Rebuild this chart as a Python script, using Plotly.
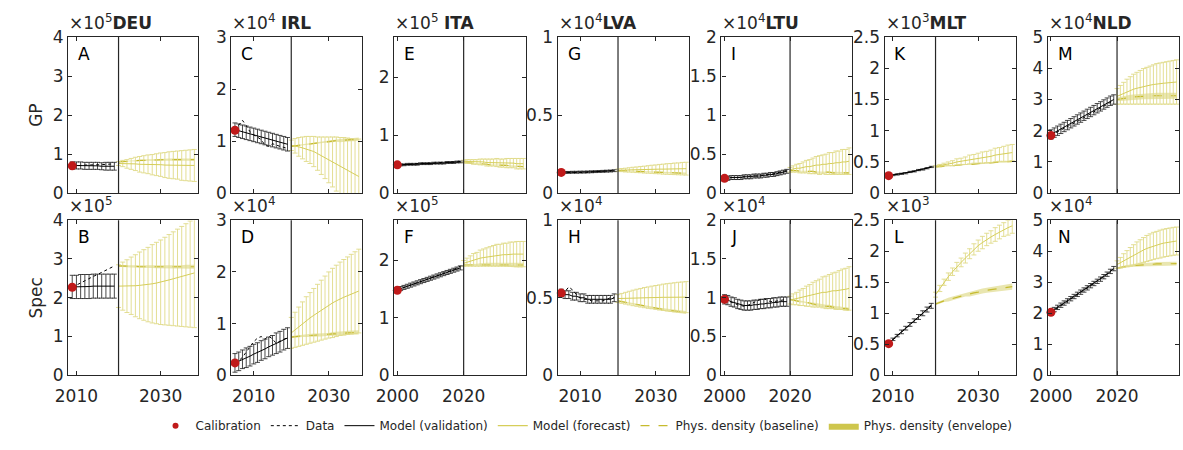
import plotly.graph_objects as go

W, H = 1183, 450
FONT = "DejaVu Sans"
INK = "#262626"

# ---------------------------------------------------------------- data ----
COUNTRIES = ["DEU", "IRL", "ITA", "LVA", "LTU", "MLT", "NLD"]
GP_PANELS = ["A", "C", "E", "G", "I", "K", "M"]
SPEC_PANELS = ["B", "D", "F", "H", "J", "L", "N"]
START_YEAR = {"DEU": 2009, "IRL": 2005, "ITA": 2000, "LVA": 2005,
              "LTU": 2000, "MLT": 2009, "NLD": 2000}
SPLIT_YEAR = 2020
FORECAST_YEARS = list(range(2020, 2039))
EXPONENT = {"DEU": 5, "IRL": 4, "ITA": 5, "LVA": 4, "LTU": 4, "MLT": 3, "NLD": 4}
Y_MAX = {"DEU": 4, "IRL": 3, "ITA": 2.7, "LVA": 1, "LTU": 2, "MLT": 2.5, "NLD": 5}
Y_TICKS = {
    "DEU": [0, 1, 2, 3, 4],
    "IRL": [0, 1, 2, 3],
    "ITA": [0, 1, 2],
    "LVA": [0, 0.5, 1],
    "LTU": [0, 0.5, 1, 1.5, 2],
    "MLT": [0, 0.5, 1, 1.5, 2, 2.5],
    "NLD": [0, 1, 2, 3, 4, 5],
}
X_TICKS = {"DEU": [2010, 2030], "IRL": [2010, 2030], "ITA": [2000, 2020],
           "LVA": [2010, 2030], "LTU": [2000, 2020], "MLT": [2010, 2030],
           "NLD": [2000, 2020]}
TITLE_GAP = {"DEU": "", "IRL": " ", "ITA": " ", "LVA": "", "LTU": "", "MLT": "", "NLD": ""}

# values in units of 10^EXPONENT
CALIBRATION = {
    "A": 0.70, "B": 2.27, "C": 1.21, "D": 0.24, "E": 0.49, "F": 1.48, "G": 0.133,
    "H": 0.53, "I": 0.19, "J": 0.98, "K": 0.28, "L": 0.51, "M": 1.85, "N": 2.03,
}

DATA = {
    "A": [0.70, 0.70, 0.71, 0.72, 0.72, 0.73, 0.73, 0.73, 0.74, 0.74, 0.75],
    "B": [2.27, 2.33, 2.38, 2.44, 2.49, 2.55, 2.60, 2.66, 2.71, 2.77, 2.82],
    "C": [1.21, 1.30, 1.40, 1.30, 1.18, 1.12, 1.08, 1.03, 0.92, 0.90, 0.95, 0.92, 0.90, 0.88, 0.86],
    "D": [0.24, 0.28, 0.35, 0.45, 0.55, 0.65, 0.72, 0.75, 0.70, 0.76, 0.70, 0.62, 0.66, 0.70, 0.73],
    "E": [0.49, 0.49, 0.50, 0.50, 0.50, 0.51, 0.51, 0.51, 0.52, 0.52,
          0.52, 0.52, 0.53, 0.53, 0.53, 0.53, 0.54, 0.54, 0.54, 0.55],
    "F": [1.48, 1.51, 1.53, 1.55, 1.57, 1.59, 1.61, 1.63, 1.65, 1.67,
          1.69, 1.71, 1.73, 1.75, 1.77, 1.79, 1.82, 1.84, 1.87, 1.90],
    "G": [0.133, 0.132, 0.131, 0.131, 0.132, 0.132, 0.133, 0.134, 0.135, 0.136,
          0.137, 0.138, 0.140, 0.142, 0.145],
    "H": [0.53, 0.54, 0.57, 0.55, 0.52, 0.50, 0.49, 0.49, 0.48, 0.48, 0.48, 0.48, 0.49, 0.50, 0.50],
    "I": [0.19, 0.19, 0.20, 0.20, 0.20, 0.21, 0.21, 0.21, 0.22, 0.22,
          0.22, 0.23, 0.23, 0.24, 0.24, 0.25, 0.26, 0.27, 0.28, 0.29],
    "J": [0.98, 0.96, 0.94, 0.92, 0.91, 0.90, 0.89, 0.90, 0.92, 0.95,
          0.97, 0.98, 0.99, 0.97, 0.95, 0.95, 0.96, 0.97, 0.97, 0.98],
    "K": [0.28, 0.29, 0.30, 0.31, 0.32, 0.34, 0.35, 0.37, 0.38, 0.40, 0.42],
    "L": [0.51, 0.57, 0.63, 0.70, 0.76, 0.82, 0.88, 0.94, 1.00, 1.07, 1.14],
    "M": [1.85, 1.90, 1.96, 2.02, 2.08, 2.13, 2.19, 2.25, 2.30, 2.36,
          2.42, 2.48, 2.54, 2.60, 2.66, 2.72, 2.78, 2.84, 2.90, 2.97],
    "N": [2.03, 2.10, 2.17, 2.24, 2.31, 2.38, 2.45, 2.52, 2.60, 2.67,
          2.74, 2.82, 2.89, 2.96, 3.04, 3.11, 3.19, 3.27, 3.36, 3.45],
}

VALIDATION = {
    "A": [0.71, 0.71, 0.71, 0.70, 0.70, 0.70, 0.70, 0.69, 0.69, 0.69, 0.69],
    "B": [2.28, 2.28, 2.29, 2.29, 2.29, 2.30, 2.30, 2.30, 2.30, 2.30, 2.30],
    "C": [1.22, 1.20, 1.18, 1.16, 1.14, 1.12, 1.10, 1.08, 1.06, 1.04, 1.02, 1.00, 0.98, 0.96, 0.94],
    "D": [0.24, 0.27, 0.31, 0.34, 0.37, 0.41, 0.44, 0.48, 0.51, 0.55, 0.58, 0.62, 0.65, 0.69, 0.72],
    "E": [0.49, 0.49, 0.49, 0.50, 0.50, 0.50, 0.50, 0.51, 0.51, 0.51,
          0.51, 0.52, 0.52, 0.52, 0.52, 0.53, 0.53, 0.53, 0.54, 0.54],
    "F": [1.49, 1.51, 1.53, 1.55, 1.57, 1.59, 1.61, 1.63, 1.65, 1.67,
          1.69, 1.71, 1.73, 1.75, 1.77, 1.79, 1.81, 1.83, 1.85, 1.87],
    "G": [0.133, 0.133, 0.133, 0.134, 0.134, 0.135, 0.135, 0.136, 0.137, 0.138,
          0.139, 0.140, 0.141, 0.142, 0.144],
    "H": [0.53, 0.52, 0.52, 0.51, 0.51, 0.50, 0.50, 0.49, 0.49, 0.49, 0.49, 0.49, 0.49, 0.49, 0.50],
    "I": [0.19, 0.19, 0.20, 0.20, 0.20, 0.20, 0.21, 0.21, 0.21, 0.22,
          0.22, 0.22, 0.23, 0.23, 0.24, 0.24, 0.25, 0.26, 0.27, 0.28],
    "J": [0.98, 0.97, 0.95, 0.94, 0.92, 0.91, 0.90, 0.90, 0.90, 0.91,
          0.91, 0.92, 0.92, 0.93, 0.93, 0.94, 0.94, 0.95, 0.95, 0.95],
    "K": [0.28, 0.29, 0.30, 0.31, 0.32, 0.34, 0.35, 0.37, 0.38, 0.40, 0.42],
    "L": [0.52, 0.58, 0.64, 0.70, 0.76, 0.82, 0.88, 0.94, 1.00, 1.06, 1.12],
    "M": [1.88, 1.94, 2.00, 2.06, 2.12, 2.18, 2.24, 2.30, 2.36, 2.42,
          2.48, 2.54, 2.60, 2.66, 2.72, 2.78, 2.84, 2.90, 2.96, 3.00],
    "N": [2.05, 2.12, 2.19, 2.26, 2.33, 2.40, 2.47, 2.54, 2.61, 2.68,
          2.75, 2.82, 2.89, 2.96, 3.03, 3.10, 3.18, 3.26, 3.35, 3.44],
}

VALIDATION_ERR = {
    "A": [0.09, 0.09, 0.09, 0.09, 0.09, 0.09, 0.09, 0.09, 0.10, 0.10, 0.10],
    "B": [0.30, 0.30, 0.31, 0.31, 0.31, 0.31, 0.31, 0.31, 0.31, 0.31, 0.31],
    "C": [0.13, 0.13, 0.13, 0.13, 0.13, 0.13, 0.13, 0.13, 0.13, 0.13, 0.13, 0.13, 0.13, 0.13, 0.13],
    "D": [0.18, 0.18, 0.18, 0.19, 0.19, 0.19, 0.19, 0.19, 0.19, 0.19, 0.19, 0.20, 0.20, 0.20, 0.20],
    "E": [0.015, 0.015, 0.015, 0.015, 0.015, 0.015, 0.015, 0.015, 0.015, 0.015,
          0.015, 0.015, 0.015, 0.015, 0.015, 0.015, 0.015, 0.015, 0.015, 0.015],
    "F": [0.035, 0.035, 0.035, 0.035, 0.035, 0.035, 0.035, 0.035, 0.035, 0.035,
          0.035, 0.035, 0.035, 0.035, 0.035, 0.035, 0.035, 0.035, 0.035, 0.035],
    "G": [0.006, 0.006, 0.006, 0.006, 0.006, 0.006, 0.006, 0.006, 0.006, 0.006,
          0.006, 0.006, 0.006, 0.006, 0.006],
    "H": [0.025, 0.025, 0.025, 0.025, 0.025, 0.025, 0.025, 0.025, 0.025, 0.025,
          0.025, 0.025, 0.025, 0.025, 0.025],
    "I": [0.025, 0.025, 0.025, 0.025, 0.025, 0.025, 0.025, 0.025, 0.025, 0.025,
          0.025, 0.025, 0.025, 0.025, 0.025, 0.025, 0.025, 0.025, 0.025, 0.025],
    "J": [0.06, 0.06, 0.06, 0.06, 0.06, 0.06, 0.06, 0.06, 0.06, 0.06,
          0.06, 0.06, 0.06, 0.06, 0.06, 0.06, 0.06, 0.06, 0.06, 0.06],
    "K": [0.01, 0.01, 0.01, 0.01, 0.01, 0.01, 0.01, 0.01, 0.01, 0.01, 0.01],
    "L": [0.02, 0.02, 0.02, 0.03, 0.03, 0.03, 0.03, 0.04, 0.04, 0.04, 0.04],
    "M": [0.15, 0.15, 0.15, 0.15, 0.15, 0.15, 0.15, 0.15, 0.15, 0.15,
          0.15, 0.15, 0.15, 0.15, 0.15, 0.15, 0.15, 0.15, 0.15, 0.15],
    "N": [0.07, 0.07, 0.07, 0.07, 0.07, 0.07, 0.07, 0.07, 0.07, 0.07,
          0.07, 0.07, 0.07, 0.07, 0.07, 0.07, 0.07, 0.07, 0.07, 0.07],
}

FORECAST = {
    "A": [0.76, 0.76, 0.75, 0.75, 0.75, 0.74, 0.74, 0.74, 0.73, 0.73,
          0.73, 0.72, 0.72, 0.72, 0.72, 0.71, 0.71, 0.71, 0.71],
    "B": [2.30, 2.30, 2.30, 2.31, 2.31, 2.32, 2.33, 2.34, 2.36, 2.38,
          2.40, 2.43, 2.46, 2.49, 2.52, 2.55, 2.58, 2.61, 2.64],
    "C": [0.92, 0.91, 0.89, 0.87, 0.85, 0.83, 0.80, 0.76, 0.72, 0.68,
          0.64, 0.60, 0.56, 0.52, 0.48, 0.44, 0.40, 0.36, 0.32],
    "D": [0.82, 0.88, 0.94, 1.00, 1.06, 1.11, 1.16, 1.21, 1.26, 1.31,
          1.36, 1.40, 1.44, 1.48, 1.51, 1.54, 1.57, 1.60, 1.63],
    "E": [0.55, 0.55, 0.55, 0.54, 0.54, 0.54, 0.54, 0.53, 0.53, 0.53,
          0.53, 0.52, 0.52, 0.52, 0.52, 0.52, 0.51, 0.51, 0.51],
    "F": [1.95, 1.97, 1.99, 2.01, 2.02, 2.04, 2.05, 2.06, 2.07, 2.08,
          2.09, 2.09, 2.10, 2.10, 2.11, 2.11, 2.11, 2.11, 2.11],
    "G": [0.147, 0.148, 0.148, 0.149, 0.150, 0.150, 0.151, 0.151, 0.152, 0.153,
          0.153, 0.154, 0.154, 0.155, 0.155, 0.156, 0.156, 0.157, 0.157],
    "H": [0.495, 0.496, 0.497, 0.498, 0.499, 0.500, 0.500, 0.501, 0.501, 0.502,
          0.502, 0.502, 0.503, 0.503, 0.503, 0.503, 0.504, 0.504, 0.504],
    "I": [0.30, 0.31, 0.32, 0.32, 0.33, 0.34, 0.34, 0.35, 0.36, 0.36,
          0.37, 0.37, 0.38, 0.38, 0.39, 0.39, 0.40, 0.40, 0.41],
    "J": [0.97, 0.98, 0.99, 1.00, 1.01, 1.02, 1.03, 1.04, 1.05, 1.06,
          1.07, 1.07, 1.08, 1.09, 1.09, 1.10, 1.11, 1.11, 1.12],
    "K": [0.43, 0.44, 0.46, 0.47, 0.48, 0.50, 0.51, 0.52, 0.54, 0.55,
          0.56, 0.57, 0.58, 0.59, 0.61, 0.62, 0.63, 0.64, 0.65],
    "L": [1.30, 1.40, 1.50, 1.59, 1.67, 1.75, 1.82, 1.89, 1.96, 2.03,
          2.09, 2.14, 2.19, 2.23, 2.27, 2.31, 2.35, 2.38, 2.41],
    "M": [3.10, 3.15, 3.20, 3.25, 3.29, 3.33, 3.36, 3.39, 3.42, 3.44,
          3.46, 3.48, 3.50, 3.51, 3.52, 3.53, 3.54, 3.55, 3.56],
    "N": [3.57, 3.63, 3.70, 3.76, 3.82, 3.88, 3.94, 3.99, 4.04, 4.09,
          4.13, 4.17, 4.20, 4.23, 4.26, 4.28, 4.30, 4.32, 4.33],
}

FORECAST_ERR = {
    "A": [0.05, 0.08, 0.11, 0.14, 0.17, 0.20, 0.22, 0.24, 0.26, 0.28,
          0.30, 0.32, 0.34, 0.35, 0.36, 0.38, 0.39, 0.40, 0.41],
    "B": [0.55, 0.62, 0.68, 0.74, 0.80, 0.86, 0.91, 0.96, 1.01, 1.05,
          1.09, 1.13, 1.17, 1.21, 1.25, 1.29, 1.33, 1.37, 1.41],
    "C": [0.10, 0.14, 0.18, 0.21, 0.24, 0.26, 0.29, 0.32, 0.36, 0.40,
          0.44, 0.48, 0.52, 0.55, 0.59, 0.62, 0.65, 0.68, 0.72],
    "D": [0.30, 0.34, 0.38, 0.42, 0.46, 0.49, 0.52, 0.55, 0.58, 0.61,
          0.64, 0.67, 0.69, 0.71, 0.73, 0.75, 0.77, 0.79, 0.81],
    "E": [0.02, 0.03, 0.03, 0.04, 0.04, 0.05, 0.05, 0.06, 0.06, 0.06,
          0.07, 0.07, 0.07, 0.08, 0.08, 0.08, 0.09, 0.09, 0.09],
    "F": [0.05, 0.07, 0.09, 0.11, 0.12, 0.14, 0.15, 0.16, 0.17, 0.18,
          0.19, 0.19, 0.20, 0.20, 0.21, 0.21, 0.22, 0.22, 0.22],
    "G": [0.008, 0.010, 0.012, 0.014, 0.016, 0.018, 0.020, 0.022, 0.024, 0.026,
          0.028, 0.030, 0.032, 0.034, 0.035, 0.037, 0.038, 0.040, 0.041],
    "H": [0.025, 0.032, 0.038, 0.044, 0.050, 0.055, 0.060, 0.065, 0.069, 0.073,
          0.077, 0.081, 0.085, 0.088, 0.091, 0.094, 0.096, 0.098, 0.100],
    "I": [0.03, 0.04, 0.05, 0.06, 0.07, 0.08, 0.09, 0.10, 0.11, 0.12,
          0.12, 0.13, 0.14, 0.14, 0.15, 0.15, 0.16, 0.16, 0.17],
    "J": [0.05, 0.07, 0.08, 0.10, 0.11, 0.13, 0.14, 0.16, 0.17, 0.18,
          0.20, 0.21, 0.22, 0.23, 0.24, 0.25, 0.26, 0.27, 0.28],
    "K": [0.01, 0.02, 0.02, 0.03, 0.04, 0.05, 0.05, 0.06, 0.07, 0.07,
          0.08, 0.09, 0.09, 0.10, 0.11, 0.11, 0.12, 0.13, 0.13],
    "L": [0.04, 0.05, 0.05, 0.06, 0.06, 0.07, 0.07, 0.08, 0.08, 0.09,
          0.09, 0.10, 0.10, 0.10, 0.11, 0.11, 0.11, 0.12, 0.12],
    "M": [0.25, 0.30, 0.35, 0.40, 0.44, 0.48, 0.51, 0.54, 0.57, 0.59,
          0.61, 0.63, 0.65, 0.66, 0.67, 0.68, 0.69, 0.70, 0.71],
    "N": [0.12, 0.17, 0.22, 0.26, 0.30, 0.33, 0.36, 0.38, 0.40, 0.42,
          0.43, 0.44, 0.44, 0.45, 0.45, 0.45, 0.45, 0.45, 0.45],
}

BASELINE = {
    "A": [0.80, 0.81, 0.82, 0.83, 0.83, 0.84, 0.84, 0.85, 0.85, 0.85,
          0.86, 0.86, 0.86, 0.86, 0.86, 0.86, 0.86, 0.86, 0.86],
    "B": [2.82, 2.82, 2.81, 2.81, 2.81, 2.80, 2.80, 2.80, 2.80, 2.80,
          2.80, 2.80, 2.80, 2.80, 2.80, 2.80, 2.80, 2.80, 2.80],
    "C": [0.90, 0.91, 0.92, 0.93, 0.94, 0.95, 0.96, 0.97, 0.98, 0.99,
          0.99, 1.00, 1.01, 1.01, 1.02, 1.02, 1.03, 1.03, 1.04],
    "D": [0.74, 0.75, 0.76, 0.76, 0.77, 0.77, 0.78, 0.78, 0.78, 0.79,
          0.79, 0.80, 0.80, 0.81, 0.81, 0.82, 0.82, 0.83, 0.83],
    "E": [0.53, 0.53, 0.52, 0.52, 0.51, 0.51, 0.50, 0.50, 0.49, 0.49,
          0.49, 0.48, 0.48, 0.48, 0.47, 0.47, 0.47, 0.47, 0.46],
    "F": [1.92, 1.92, 1.92, 1.92, 1.92, 1.93, 1.93, 1.93, 1.93, 1.93,
          1.93, 1.93, 1.93, 1.93, 1.92, 1.92, 1.92, 1.92, 1.92],
    "G": [0.145, 0.144, 0.143, 0.142, 0.141, 0.140, 0.139, 0.138, 0.137, 0.136,
          0.135, 0.134, 0.133, 0.132, 0.131, 0.130, 0.129, 0.128, 0.127],
    "H": [0.480, 0.475, 0.470, 0.465, 0.460, 0.455, 0.450, 0.445, 0.440, 0.436,
          0.432, 0.428, 0.424, 0.420, 0.417, 0.414, 0.411, 0.408, 0.405],
    "I": [0.29, 0.29, 0.29, 0.28, 0.28, 0.28, 0.28, 0.28, 0.27, 0.27,
          0.27, 0.27, 0.27, 0.26, 0.26, 0.26, 0.26, 0.26, 0.26],
    "J": [0.98, 0.97, 0.96, 0.95, 0.95, 0.94, 0.93, 0.92, 0.91, 0.91,
          0.90, 0.89, 0.89, 0.88, 0.87, 0.87, 0.86, 0.86, 0.85],
    "K": [0.42, 0.43, 0.43, 0.44, 0.44, 0.45, 0.45, 0.46, 0.46, 0.47,
          0.47, 0.48, 0.48, 0.49, 0.49, 0.50, 0.50, 0.51, 0.51],
    "L": [1.15, 1.18, 1.20, 1.22, 1.24, 1.26, 1.28, 1.30, 1.31, 1.33,
          1.34, 1.36, 1.37, 1.38, 1.39, 1.40, 1.41, 1.42, 1.43],
    "M": [3.00, 3.02, 3.04, 3.05, 3.07, 3.08, 3.09, 3.10, 3.10, 3.11,
          3.11, 3.12, 3.12, 3.12, 3.12, 3.12, 3.12, 3.12, 3.12],
    "N": [3.45, 3.48, 3.50, 3.52, 3.53, 3.54, 3.55, 3.56, 3.57, 3.57,
          3.58, 3.58, 3.59, 3.59, 3.59, 3.60, 3.60, 3.60, 3.60],
}

# half-width of the physical-density envelope around the baseline
ENVELOPE = {
    "A": [0.01, 0.01, 0.01, 0.01, 0.02, 0.02, 0.02, 0.02, 0.02, 0.02,
          0.02, 0.02, 0.03, 0.03, 0.03, 0.03, 0.03, 0.03, 0.03],
    "B": [0.02, 0.02, 0.02, 0.03, 0.03, 0.03, 0.03, 0.03, 0.03, 0.04,
          0.04, 0.04, 0.04, 0.04, 0.04, 0.04, 0.05, 0.05, 0.05],
    "C": [0.01, 0.01, 0.01, 0.01, 0.02, 0.02, 0.02, 0.02, 0.02, 0.02,
          0.02, 0.02, 0.02, 0.03, 0.03, 0.03, 0.03, 0.03, 0.03],
    "D": [0.02, 0.02, 0.02, 0.02, 0.03, 0.03, 0.03, 0.03, 0.03, 0.03,
          0.03, 0.04, 0.04, 0.04, 0.04, 0.04, 0.04, 0.04, 0.04],
    "E": [0.005, 0.005, 0.006, 0.006, 0.007, 0.007, 0.008, 0.008, 0.009, 0.009,
          0.010, 0.010, 0.010, 0.011, 0.011, 0.011, 0.012, 0.012, 0.012],
    "F": [0.01, 0.01, 0.02, 0.02, 0.02, 0.02, 0.03, 0.03, 0.03, 0.03,
          0.03, 0.03, 0.03, 0.04, 0.04, 0.04, 0.04, 0.04, 0.04],
    "G": [0.002, 0.002, 0.002, 0.003, 0.003, 0.003, 0.003, 0.003, 0.004, 0.004,
          0.004, 0.004, 0.004, 0.004, 0.005, 0.005, 0.005, 0.005, 0.005],
    "H": [0.004, 0.004, 0.005, 0.005, 0.005, 0.006, 0.006, 0.006, 0.007, 0.007,
          0.007, 0.008, 0.008, 0.008, 0.008, 0.009, 0.009, 0.009, 0.009],
    "I": [0.005, 0.005, 0.006, 0.006, 0.007, 0.007, 0.008, 0.008, 0.009, 0.009,
          0.010, 0.010, 0.010, 0.011, 0.011, 0.011, 0.012, 0.012, 0.012],
    "J": [0.01, 0.01, 0.01, 0.01, 0.01, 0.01, 0.01, 0.02, 0.02, 0.02,
          0.02, 0.02, 0.02, 0.02, 0.02, 0.02, 0.02, 0.02, 0.02],
    "K": [0.005, 0.006, 0.006, 0.007, 0.007, 0.008, 0.008, 0.009, 0.009, 0.010,
          0.010, 0.011, 0.011, 0.012, 0.012, 0.013, 0.013, 0.014, 0.014],
    "L": [0.02, 0.02, 0.02, 0.03, 0.03, 0.03, 0.03, 0.03, 0.04, 0.04,
          0.04, 0.04, 0.04, 0.04, 0.05, 0.05, 0.05, 0.05, 0.05],
    "M": [0.06, 0.07, 0.07, 0.08, 0.08, 0.08, 0.09, 0.09, 0.09, 0.10,
          0.10, 0.10, 0.10, 0.10, 0.10, 0.10, 0.10, 0.10, 0.10],
    "N": [0.03, 0.03, 0.04, 0.04, 0.04, 0.05, 0.05, 0.05, 0.05, 0.05,
          0.06, 0.06, 0.06, 0.06, 0.06, 0.06, 0.06, 0.06, 0.06],
}

# ------------------------------------------------------------- styling ----
COL_X0 = [51.0, 216.7, 382.0, 548.0, 714.3, 880.0, 1045.7]
COL_X1 = [182.7, 349.3, 516.0, 681.7, 846.7, 1013.3, 1179.3]
ROW_Y = [(28.3, 191.7), (220.0, 382.3)]
X_END = 2038.85

RED = "#c01a1a"
FC_LINE = "#d6ce5a"
FC_BAR = "#e0da88"
BASE_COLOR = "#c6bb2e"
ENV_FILL = "rgba(201, 192, 58, 0.40)"
ENV_LEGEND = "rgba(201, 192, 58, 0.9)"

fig = go.Figure()
layout = dict(
    width=W, height=H, margin=dict(l=0, r=0, t=0, b=0),
    paper_bgcolor="white", plot_bgcolor="white",
    font=dict(family=FONT, size=17, color=INK),
    showlegend=True,
    legend=dict(orientation="h", x=0.488, xanchor="center", y=(H - 435) / H,
                yanchor="middle", font=dict(size=12, color=INK),
                bgcolor="rgba(0,0,0,0)", traceorder="normal", itemwidth=30),
)
annotations = []
shapes = []

for row, panels in enumerate([GP_PANELS, SPEC_PANELS]):
    y0, y1 = ROW_Y[row]
    for col, country in enumerate(COUNTRIES):
        letter = panels[col]
        n = row * 7 + col + 1
        xa = "x" if n == 1 else f"x{n}"
        ya = "y" if n == 1 else f"y{n}"
        start = START_YEAR[country]
        hist_years = list(range(start, SPLIT_YEAR))

        layout["xaxis" if n == 1 else f"xaxis{n}"] = dict(
            domain=[COL_X0[col] / W, COL_X1[col] / W],
            range=[start - 0.95, X_END], anchor=ya,
            tickvals=X_TICKS[country], ticktext=[str(v) for v in X_TICKS[country]],
            showticklabels=(row == 1), ticks="inside", ticklen=4, tickwidth=1,
            tickcolor=INK, showline=True, linecolor=INK, linewidth=1.3,
            mirror="ticks", showgrid=False, zeroline=False,
            tickfont=dict(size=17, color=INK), ticklabelstandoff=5,
        )
        yt = Y_TICKS[country]
        layout["yaxis" if n == 1 else f"yaxis{n}"] = dict(
            domain=[1 - y1 / H, 1 - y0 / H],
            range=[0, Y_MAX[country]], anchor=xa,
            tickvals=yt, ticktext=[f"{v:g}" for v in yt],
            ticks="inside", ticklen=4, tickwidth=1, tickcolor=INK,
            showline=True, linecolor=INK, linewidth=1.3, mirror="ticks",
            showgrid=False, zeroline=False, tickfont=dict(size=17, color=INK),
        )

        # physical-density envelope
        lo = [b - e for b, e in zip(BASELINE[letter], ENVELOPE[letter])]
        hi = [b + e for b, e in zip(BASELINE[letter], ENVELOPE[letter])]
        fig.add_trace(go.Scatter(
            x=FORECAST_YEARS, y=lo, xaxis=xa, yaxis=ya, mode="lines",
            line=dict(width=0, color=ENV_FILL), hoverinfo="skip",
            showlegend=False))
        fig.add_trace(go.Scatter(
            x=FORECAST_YEARS, y=hi, xaxis=xa, yaxis=ya, mode="lines",
            line=dict(width=0, color=ENV_LEGEND), fill="tonexty",
            fillcolor=ENV_FILL, name="Phys. density (envelope)",
            showlegend=False))
        # physical-density baseline
        fig.add_trace(go.Scatter(
            x=FORECAST_YEARS, y=BASELINE[letter], xaxis=xa, yaxis=ya,
            mode="lines", line=dict(color=BASE_COLOR, width=1.2, dash="dash"),
            name="Phys. density (baseline)", showlegend=False))
        # model forecast
        fig.add_trace(go.Scatter(
            x=FORECAST_YEARS, y=FORECAST[letter], xaxis=xa, yaxis=ya,
            mode="lines", line=dict(color=FC_LINE, width=1.0),
            error_y=dict(type="data", array=FORECAST_ERR[letter], symmetric=True,
                         color=FC_BAR, thickness=0.9, width=2.5),
            name="Model (forecast)", showlegend=False))
        # model validation
        fig.add_trace(go.Scatter(
            x=hist_years, y=VALIDATION[letter], xaxis=xa, yaxis=ya,
            mode="lines", line=dict(color="black", width=1.0),
            error_y=dict(type="data", array=VALIDATION_ERR[letter], symmetric=True,
                         color="#1a1a1a", thickness=0.8, width=2.5),
            name="Model (validation)", showlegend=False))
        # observed data
        fig.add_trace(go.Scatter(
            x=hist_years, y=DATA[letter], xaxis=xa, yaxis=ya,
            mode="lines", line=dict(color="black", width=1.0, dash="dot"),
            name="Data", showlegend=False))
        # calibration point
        fig.add_trace(go.Scatter(
            x=[start], y=[CALIBRATION[letter]], xaxis=xa, yaxis=ya,
            mode="markers", marker=dict(color=RED, size=9), cliponaxis=False,
            name="Calibration", showlegend=False))

        # end of validation period
        shapes.append(dict(type="line", xref=xa, yref=f"{ya} domain",
                           x0=SPLIT_YEAR, x1=SPLIT_YEAR, y0=0, y1=1,
                           line=dict(color=INK, width=1.2)))

        # exponent (and country name on the top row)
        exp_txt = f"×10<sup>{EXPONENT[country]}</sup>"
        if row == 0:
            exp_txt += f"{TITLE_GAP[country]}<b>{country}</b>"
        annotations.append(dict(
            text=exp_txt, xref="paper", yref="paper",
            x=COL_X0[col] / W, y=1 - (y0 - 2) / H, xanchor="left",
            yanchor="bottom", showarrow=False, font=dict(size=17, color=INK),
            xshift=-1))
        # panel letter
        annotations.append(dict(
            text=letter, xref="paper", yref="paper",
            x=(COL_X0[col] + 8) / W, y=1 - (y0 + 5) / H, xanchor="left",
            yanchor="top", showarrow=False, font=dict(size=17, color="black")))

# row labels
for label, (y0, y1) in zip(["GP", "Spec"], ROW_Y):
    annotations.append(dict(
        text=label, xref="paper", yref="paper", x=18 / W,
        y=1 - (y0 + y1) / 2 / H, xanchor="center", yanchor="middle",
        textangle=-90, showarrow=False, font=dict(size=17, color=INK)))

# legend entries (empty traces, so only the legend shows them)
legend_axes = dict(xaxis="x", yaxis="y")
fig.add_trace(go.Scatter(x=[None], y=[None], mode="markers",
                         marker=dict(color=RED, size=6), name="Calibration", **legend_axes))
fig.add_trace(go.Scatter(x=[None], y=[None], mode="lines",
                         line=dict(color="black", width=1, dash="dot"), name="Data", **legend_axes))
fig.add_trace(go.Scatter(x=[None], y=[None], mode="lines",
                         line=dict(color="black", width=1), name="Model (validation)", **legend_axes))
fig.add_trace(go.Scatter(x=[None], y=[None], mode="lines",
                         line=dict(color=FC_LINE, width=1.2), name="Model (forecast)", **legend_axes))
fig.add_trace(go.Scatter(x=[None], y=[None], mode="lines",
                         line=dict(color=BASE_COLOR, width=1.2, dash="dash"),
                         name="Phys. density (baseline)", **legend_axes))
fig.add_trace(go.Scatter(x=[None], y=[None], mode="lines", fill="toself",
                         fillcolor=ENV_LEGEND, line=dict(width=0, color=ENV_LEGEND),
                         name="Phys. density (envelope)", **legend_axes))

layout["annotations"] = annotations
layout["shapes"] = shapes
fig.update_layout(**layout)
fig.write_html("out.html")
